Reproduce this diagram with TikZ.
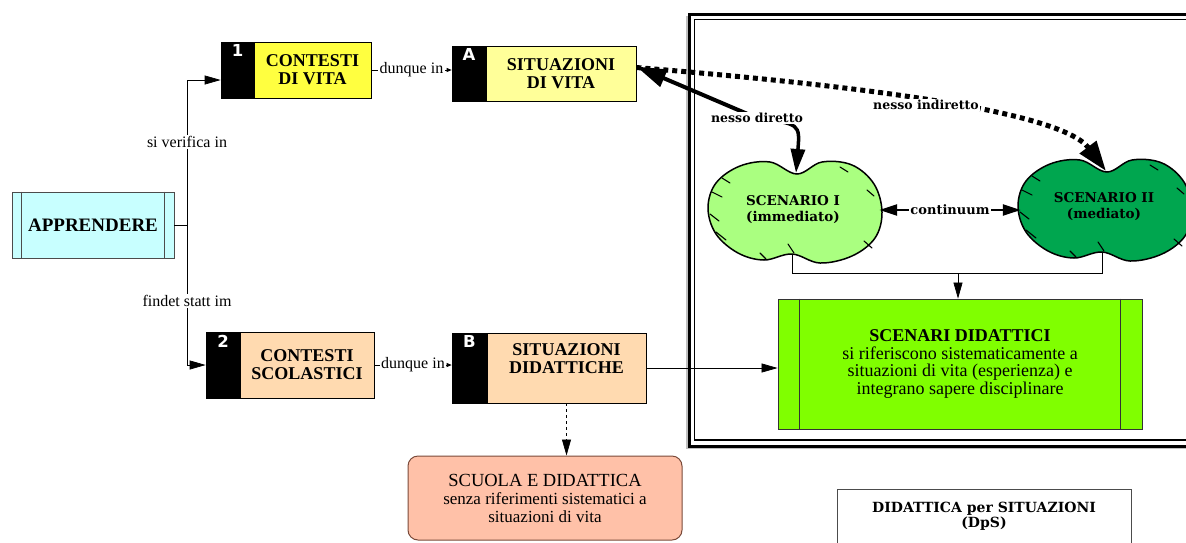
\documentclass[tikz,border=0pt]{standalone}
\usepackage{fontspec}
\setmainfont{Liberation Serif}
\newfontfamily\cfont{DejaVu Serif}
\newfontfamily\nfont{DejaVu Sans}
\usetikzlibrary{arrows.meta,calc}
\definecolor{apprfill}{HTML}{C8FFFF}
\definecolor{yelA}{HTML}{FFFF40}
\definecolor{yelB}{HTML}{FFFF99}
\definecolor{peach}{HTML}{FFDAB0}
\definecolor{salmon}{HTML}{FFC1A8}
\definecolor{salmonline}{HTML}{7A4A3A}
\definecolor{cloudA}{HTML}{AAFF80}
\definecolor{cloudB}{HTML}{00A64F}
\definecolor{scenfill}{HTML}{80FF00}
\begin{document}
\begin{tikzpicture}[x=1pt,y=-1pt,
  box/.style={draw=black, line width=0.7pt, inner sep=0pt, align=center, font=\bfseries\fontsize{18}{18}\selectfont},
  kblk/.style={draw=black, fill=black, line width=0.7pt, inner sep=0pt},
  num/.style={text=white, font=\nfont\bfseries\fontsize{16.5}{16.5}\selectfont, inner sep=0pt, anchor=north, yshift=-3pt},
  elbl/.style={fill=white, inner sep=1.5pt, font=\fontsize{16}{16}\selectfont},
  conn/.style={line width=0.7pt, -{Triangle[length=16pt,width=9pt]}},
  smallconn/.style={line width=0.7pt, -{Triangle[length=5pt,width=4pt]}},
  clbl/.style={fill=white, inner sep=1.5pt, font=\cfont\bfseries\fontsize{12.5}{12.5}\selectfont},
  cloudtxt/.style={align=center, inner sep=0pt, font=\cfont\bfseries\fontsize{13.5}{16}\selectfont},
  cloudline/.style={draw=black, line width=1.5pt},
  cloudtick/.style={draw=black, line width=1.1pt, line cap=round},
]
\useasboundingbox (0,0) rectangle (1186,542);
\clip (0,0) rectangle (1186,542);
\fill[white] (0,0) rectangle (1186,542);

% frame
\draw[black!25, line width=2pt] (687,16) -- (687,448) -- (1260,448);
\draw[line width=3pt] (689,14) rectangle (1260,446);
\draw[line width=1.8pt] (694.5,19.5) rectangle (1260,440);

% APPRENDERE
\node[box, fill=apprfill, draw=black!70, minimum width=162pt, minimum height=66pt, font=\bfseries\fontsize{19}{19}\selectfont] (appr) at (93,225) {APPRENDERE};
\draw[line width=0.7pt, black!70] ([xshift=10pt]appr.north west) -- ([xshift=10pt]appr.south west)
  ([xshift=-10pt]appr.north east) -- ([xshift=-10pt]appr.south east);

% numbered boxes
\node[box, fill=yelA, minimum width=117pt, minimum height=56pt] (b1) at (312.5,70) {CONTESTI\\DI VITA};
\node[kblk, minimum width=33pt, minimum height=56pt] (k1) at (237.5,70) {};
\node[num] (n1) at (k1.north) {1};

\node[box, fill=yelB, minimum width=150pt, minimum height=55pt] (bA) at (561,73.5) {SITUAZIONI\\DI VITA};
\node[kblk, minimum width=34pt, minimum height=55pt] (kA) at (469,73.5) {};
\node[num] (nA) at (kA.north) {A};

\node[box, fill=peach, minimum width=134pt, minimum height=66pt] (b2) at (307,365) {CONTESTI\\SCOLASTICI};
\node[kblk, minimum width=34pt, minimum height=66pt] (k2) at (223,365) {};
\node[num] (n2) at (k2.north) {2};

\node[box, fill=peach, minimum width=159pt, minimum height=70pt] (bB) at (566.5,368) {};
\node[box, draw=none] (tB) at (566.5,359) {SITUAZIONI\\DIDATTICHE};
\node[kblk, minimum width=35pt, minimum height=70pt] (kB) at (469.5,368) {};
\node[num] (nB) at (kB.north) {B};

% scuola
\node[draw=salmonline, line width=1pt, fill=salmon, rounded corners=10pt, minimum width=274pt, minimum height=84pt, align=center, inner sep=0pt, font=\fontsize{17}{18}\selectfont] (sc) at (545,498)
  {{\fontsize{18.5}{18}\selectfont SCUOLA E DIDATTICA}\\senza riferimenti sistematici a\\situazioni di vita};

% scenari didattici
\node[draw=black!80, line width=0.8pt, fill=scenfill, minimum width=364pt, minimum height=130pt, align=center, inner sep=0pt, font=\fontsize{18}{17.5}\selectfont] (scen) at (960,364)
  {\textbf{SCENARI DIDATTICI}\\si riferiscono sistematicamente a\\situazioni di vita (esperienza) e\\integrano sapere disciplinare};
\draw[line width=0.8pt, black!80] ([xshift=22pt]scen.north west) -- ([xshift=22pt]scen.south west)
  ([xshift=-22pt]scen.north east) -- ([xshift=-22pt]scen.south east);

% DpS
\node[draw=black!70, line width=0.8pt, fill=white, anchor=north, minimum width=294pt, minimum height=80pt] (dps) at (984,489) {};
\node[align=center, font=\cfont\bfseries\fontsize{14}{15}\selectfont, inner sep=0pt] (dpst) at (984,516) {DIDATTICA per SITUAZIONI\\(DpS)};

% clouds
\path[cloudline, fill=cloudA] plot[smooth cycle, tension=0.6] coordinates {(797,174) (822,162) (852,165) (874,184) (882,212) (875,238) (852,256) (820,263) (792,254) (764,260) (738,253) (716,234) (708,208) (716,183) (740,166) (770,162)};
\draw[cloudtick] (712,192) -- (722,197) (710,214) -- (719,221) (716,232) -- (726,240)
  (760,253) -- (766,259) (788,244) -- (794,253) (867,190) -- (874,196) (864,241) -- (872,248)
  (722,178) -- (730,183) (840,167) -- (848,172);
\begin{scope}[shift={(310,-2)}]
\path[cloudline, fill=cloudB] plot[smooth cycle, tension=0.6] coordinates {(797,174) (822,162) (852,165) (874,184) (882,212) (875,238) (852,256) (820,263) (792,254) (764,260) (738,253) (716,234) (708,208) (716,183) (740,166) (770,162)};
\draw[cloudtick] (712,192) -- (722,197) (710,214) -- (719,221) (716,232) -- (726,240)
  (760,253) -- (766,259) (788,244) -- (794,253) (867,190) -- (874,196) (864,241) -- (872,248)
  (722,178) -- (730,183) (840,167) -- (848,172);
\end{scope}
\node[cloudtxt, minimum width=172pt, minimum height=100pt] (c1) at (793,210) {SCENARIO I\\(immediato)};
\node[cloudtxt, minimum width=166pt, minimum height=100pt] (c2) at (1104,207) {SCENARIO II\\(mediato)};

\coordinate (c1top) at (796,173);
\coordinate (c2top) at (1106,171);
\coordinate (c1bot) at (792,255);
\coordinate (c2bot) at (1102,252);
\coordinate (jn) at (958,273);
\coordinate (jA) at (187,225);
\coordinate (nd) at (757,118);

% left connectors
\draw[line width=0.8pt] (appr.east) -- (jA);
\draw[conn] (jA) |- ([yshift=-10pt]k1.west);
\draw[conn] (jA) |- (k2.west);
\node[elbl] (l1) at (187,142) {si verifica in};
\node[elbl] (l2) at (187,301) {findet statt im};
\draw[smallconn] (b1.east) -- (b1.east -| kA.west) node[elbl, midway] (l3) {dunque in};
\draw[smallconn] (b2.east) -- (b2.east -| kB.west) node[elbl, midway] (l4) {dunque in};

\draw[conn] (bB.east) -- (bB.east -| scen.west);
\draw[conn, dashed] (bB.south) -- (bB.south |- sc.north);

% cloud connectors
\draw[line width=0.8pt] (c1bot) -- (c1bot |- jn) -| (c2bot);
\draw[conn] (jn) -- (jn |- scen.north);
\draw[line width=2.5pt, {Triangle[length=18pt,width=11pt]}-{Triangle[length=18pt,width=11pt]}] (c1.east) -- (c1.east -| c2.west) node[midway, clbl, font=\cfont\bfseries\fontsize{13}{13}\selectfont] (l5) {continuum};

% nesso arrows
\draw[line width=5pt, dash pattern=on 5pt off 4pt, -{Triangle[length=30pt,width=20pt]}] ([yshift=6pt]bA.east) .. controls (850,85) and (1060,110) .. (c2top);
\draw[line width=4pt, -{Triangle[length=30pt,width=18pt]}] (nd) -- ([yshift=7pt]bA.east);
\draw[line width=3.5pt, -{Triangle[length=24pt,width=14pt]}] (nd) .. controls (800,124) .. (c1top);
\node[clbl] (l6) at (nd) {nesso diretto};
\node[clbl] (l7) at (926,105) {nesso indiretto};
\end{tikzpicture}
\end{document}
